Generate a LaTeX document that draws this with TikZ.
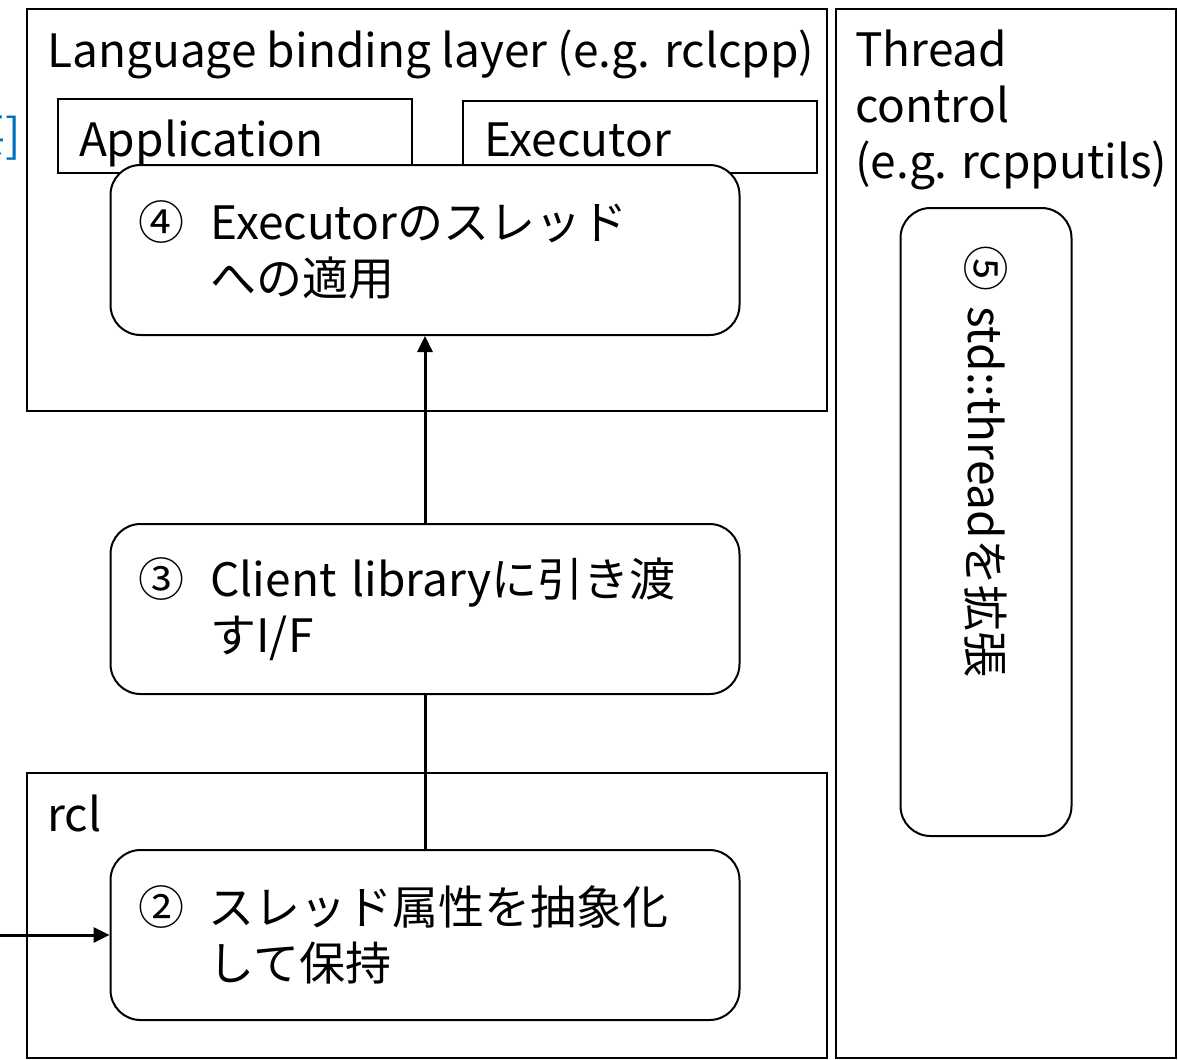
\documentclass[tikz,border=0pt]{standalone}
\usepackage{fontspec}
\setmainfont{Noto Sans CJK JP}
\usepackage{tikz}
\usetikzlibrary{arrows.meta, positioning}
\definecolor{linkblue}{RGB}{0,112,192}

\begin{document}
\begin{tikzpicture}[
		x=1pt, y=-1pt,
		font=\fontsize{46}{56}\selectfont,
		layer/.style={draw, line width=2pt, inner sep=0pt, anchor=north west},
		title/.style={anchor=north west, inner sep=0pt, align=left},
		part/.style={draw, line width=2pt, inner xsep=21pt, inner ysep=0pt, text width=312pt, anchor=north west, align=left},
		stepbox/.style={draw, line width=2pt, rounded corners=30pt, fill=white, minimum height=170pt, inner xsep=28pt, text width=573pt, align=left},
		link/.style={line width=3pt},
		>={Triangle[length=16pt, width=15pt]}
		]
		\useasboundingbox (0,0) rectangle (1178,1060);
		
		% Layers
		\node[layer, minimum width=800pt, minimum height=402pt] (binding) at (26,8) {};
		\node[layer, minimum width=340pt, minimum height=1049pt] (thread) at (835,8) {};
		\node[layer, minimum width=800pt, minimum height=285pt] (rcl) at (26,772) {};
		\node[title] (bindingtitle) at (47,30) {Language binding layer (e.g. rclcpp)};
		\node[title] (threadtitle) at (855,30) {Thread\\control\\(e.g. rcpputils)};
		\node[title] (rcltitle) at (47,795) {rcl};
		\node[anchor=base east, inner sep=0pt, text=linkblue] (cut) at (21,152) {要]};
		
		% Parts of the binding layer
		\node[part, text height=57pt, text depth=17pt] (app) at (57,98) {Application};
		\node[part, text height=55pt, text depth=17pt] (exec) at (462,100) {Executor};
		
		% Steps
		\node[stepbox] (apply) at (425,250) {\makebox[72pt][l]{④}Executorのスレッド\\\hspace*{72pt}への適用};
		\node[stepbox] (iface) at (425,609) {\makebox[72pt][l]{③}Client libraryに引き渡\\\hspace*{72pt}すI/F};
		\node[stepbox] (attr) at (425,935) {\makebox[70pt][l]{②}スレッド属性を抽象化\\\hspace*{70pt}して保持};
		\node[stepbox, rotate=-90, minimum height=171pt, inner xsep=37pt, text width=554pt] (extend) at (986,522) {⑤ std::threadを拡張};
		
		% Connectors
		\coordinate (feed) at (-10,935);
		\draw[->, link] (feed) -- (attr);
		\draw[link] (attr) -- (iface);
		\draw[->, link] (iface) -- (apply);
	\end{tikzpicture}
\end{document}
